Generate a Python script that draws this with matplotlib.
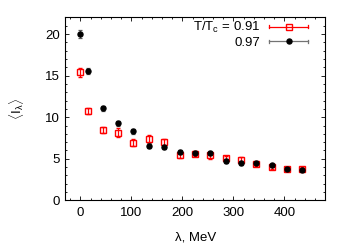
import matplotlib.pyplot as plt
import numpy as np
from matplotlib.ticker import MultipleLocator
from matplotlib.legend_handler import HandlerBase
from matplotlib.lines import Line2D

plt.rcParams['font.family'] = ['Liberation Sans', 'DejaVu Sans']
plt.rcParams['mathtext.fontset'] = 'custom'
plt.rcParams['mathtext.rm'] = 'Liberation Sans'
plt.rcParams['mathtext.it'] = 'Liberation Sans'

lam = [0, 15, 44, 74, 104, 134, 164, 195, 225, 254, 285, 315, 344, 375, 406, 435]

# T/Tc = 0.91
y091 = [15.4, 10.75, 8.5, 8.15, 6.95, 7.4, 7.0, 5.45, 5.6, 5.4, 5.05, 4.9, 4.35, 4.05, 3.8, 3.8]
e091 = [0.55, 0.4, 0.35, 0.5, 0.4, 0.45, 0.4, 0.3, 0.3, 0.4, 0.3, 0.3, 0.25, 0.25, 0.2, 0.2]

# T/Tc = 0.97
y097 = [20.0, 15.6, 11.1, 9.3, 8.3, 6.6, 6.4, 5.8, 5.75, 5.7, 4.75, 4.5, 4.55, 4.2, 3.8, 3.7]
e097 = [0.5, 0.35, 0.3, 0.3, 0.3, 0.25, 0.25, 0.2, 0.2, 0.2, 0.2, 0.2, 0.2, 0.15, 0.15, 0.15]


class KeyHandler(HandlerBase):
    # gnuplot-like key: horizontal bar with end caps and the point in the middle
    def __init__(self, lcolor, **kw):
        super().__init__()
        self.lcolor = lcolor
        self.kw = kw

    def create_artists(self, legend, orig, xd, yd, w, h, fs, trans):
        y = yd + h / 2
        c = 0.2 * h
        arts = [Line2D([xd, xd + w], [y, y], color=self.lcolor, lw=0.9),
                Line2D([xd, xd], [y - c, y + c], color=self.lcolor, lw=0.9),
                Line2D([xd + w, xd + w], [y - c, y + c], color=self.lcolor, lw=0.9),
                Line2D([xd + w / 2], [y], ls='none', **self.kw)]
        for a in arts:
            a.set_transform(trans)
        return arts


fig = plt.figure(figsize=(3.5, 2.45), dpi=100)
ax = fig.add_axes([0.186, 0.182, 0.743, 0.747])

h1 = ax.errorbar(lam, y091, yerr=e091, fmt='s', color='red', mfc='none', mec='red',
                 ms=4.2, mew=1.0, elinewidth=0.9, capsize=1.5, capthick=0.9)
h2 = ax.errorbar(lam, y097, yerr=e097, fmt='o', color='black', ecolor='0.35',
                 ms=3.6, elinewidth=0.9, capsize=1.5, capthick=0.9)

ax.set_xlim(-30, 480)
ax.set_ylim(0, 22)
ax.xaxis.set_major_locator(MultipleLocator(100))
ax.xaxis.set_minor_locator(MultipleLocator(20))
ax.yaxis.set_major_locator(MultipleLocator(5))
ax.yaxis.set_minor_locator(MultipleLocator(1))
ax.tick_params(which='both', direction='in', top=True, right=True, labelsize=9.5)
ax.tick_params(which='major', length=3, width=0.6)
ax.tick_params(which='minor', length=1.5, width=0.6)
ax.tick_params(axis='x', pad=5)
for s in ax.spines.values():
    s.set_linewidth(0.8)

ax.set_xlabel('λ, MeV', fontsize=9.5, labelpad=9)
ax.set_ylabel(r'$\langle\mathrm{I}_{\lambda}\rangle$', fontsize=9.5, labelpad=14)

hm1 = KeyHandler('red', marker='s', mfc='none', mec='red', ms=4.2, mew=1.0)
hm2 = KeyHandler('0.45', marker='o', color='black', ms=3.6)
ax.legend([h1, h2], ['T/T$_\\mathregular{c}$ = 0.91', '0.97'],
          handler_map={h1: hm1, h2: hm2},
          loc='upper right', bbox_to_anchor=(0.935, 0.985),
          markerfirst=False, frameon=False, fontsize=9.5,
          handlelength=2.95, handletextpad=0.7, labelspacing=0.12,
          borderaxespad=0, borderpad=0)

fig.savefig('out.png', dpi=100)
